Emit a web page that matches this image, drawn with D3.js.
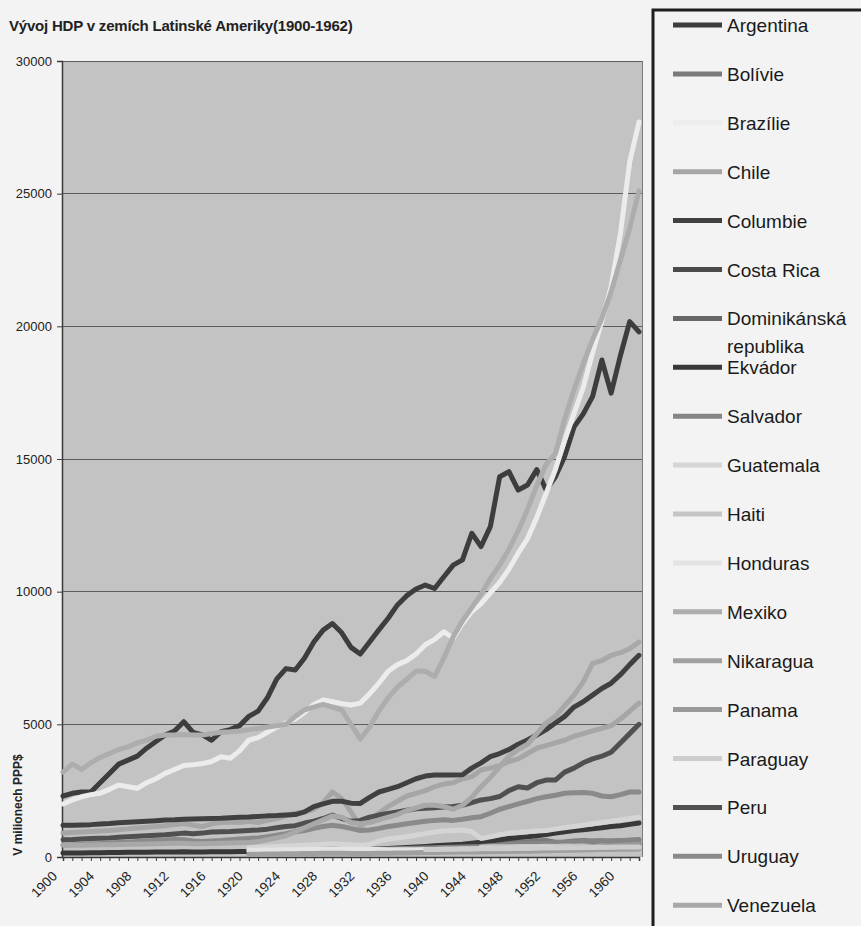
<!DOCTYPE html>
<html><head><meta charset="utf-8">
<script src="https://cdn.jsdelivr.net/npm/d3@7"></script>
<style>
html,body{margin:0;padding:0;background:#f3f3f3;}
svg{display:block;font-family:"Liberation Sans",Arial,sans-serif;}
</style></head>
<body><svg id="c" width="861" height="926"></svg>
<script>
const years = d3.range(1900, 1963);
const yTicks = [0, 5000, 10000, 15000, 20000, 25000, 30000];
const xLabelYears = d3.range(1900, 1961, 4);
const countries = ["Argentina","Bolívie","Brazílie","Chile","Columbie","Costa Rica","Dominikánská republika","Ekvádor","Salvador","Guatemala","Haiti","Honduras","Mexiko","Nikaragua","Panama","Paraguay","Peru","Uruguay","Venezuela"];
const colors = ["#3d3d3d","#7a7a7a","#ececec","#a6a6a6","#404040","#4a4a4a","#666666","#383838","#858585","#d5d5d5","#c5c5c5","#e4e4e4","#adadad","#a0a0a0","#999999","#cdcdcd","#505050","#8a8a8a","#a8a8a8"];
const N = null;

const argentina = [2300,2400,2450,2450,2800,3150,3500,3650,3800,4100,
4350,4600,4750,5100,4700,4600,4400,4720,4800,4950,
5300,5500,6000,6700,7100,7050,7500,8100,8550,8800,
8450,7900,7650,8100,8560,9000,9500,9850,10100,10250,
10120,10560,11000,11200,12200,11700,12450,14330,14520,13830,
14020,14600,13830,14330,15100,16200,16700,17350,18730,17480,
18900,20180,19790];
const bolivie = [N,N,N,N,N,N,N,N,N,N, N,N,N,N,N,N,N,N,N,N, N,N,N,N,N,N,N,N,N,N, N,N,N,N,N,N,N,N,N,N,
N,N,N,N,N,500,520,540,550,560,
570,600,620,560,570,600,620,600,610,580,
600,630,650];
const brazilie = [2000,2150,2270,2350,2400,2550,2710,2650,2590,2800,
2950,3150,3300,3450,3480,3520,3600,3780,3720,4000,
4400,4500,4700,4900,5050,5200,5450,5750,5920,5850,
5780,5730,5800,6150,6550,7000,7250,7400,7650,8000,
8200,8490,8250,8800,9250,9550,9950,10350,10850,11450,
12000,12800,13700,14600,15700,16700,17700,19000,20200,21500,
23500,26200,27700];
const chile = [900,920,940,960,980,1000,1030,1060,1090,1120,
1150,1180,1220,1260,1200,1150,1250,1300,1320,1300,
1350,1300,1380,1450,1550,1650,1700,1800,2050,2450,
2200,1700,1150,1400,1650,1900,2100,2300,2400,2500,
2650,2750,2800,2950,3030,3280,3350,3450,3600,3700,
3900,4100,4200,4300,4400,4550,4650,4750,4850,4950,
5200,5500,5800];
const columbie = [1200,1200,1210,1220,1240,1260,1290,1310,1330,1350,
1370,1390,1400,1420,1430,1440,1450,1460,1480,1500,
1510,1530,1550,1560,1580,1600,1700,1900,2000,2100,
2100,2030,2020,2250,2450,2550,2650,2800,2950,3050,
3090,3090,3090,3100,3350,3550,3780,3900,4050,4250,
4410,4600,4800,5050,5300,5650,5850,6100,6350,6550,
6870,7250,7600];
const costaRica = [N,N,N,N,N,N,N,N,N,N, N,N,N,N,N,N,N,N,N,N,
130,135,140,150,155,160,165,170,180,185,
180,175,170,175,180,190,200,210,220,230,
230,240,230,220,230,240,250,270,280,290,
300,310,320,340,350,360,370,380,390,400,
405,410,420];
const dominikanska = [N,N,N,N,N,N,N,N,N,N, N,N,N,N,N,N,N,N,N,N, N,N,N,N,N,N,N,N,N,N, N,N,N,N,N,N,N,N,N,N,
N,N,N,N,N,N,N,N,N,N,
300,320,340,350,370,390,410,430,450,460,
470,480,520];
const ekvador = [150,150,155,160,160,165,170,175,180,180,
185,190,190,195,190,190,195,200,200,205,
210,215,220,230,240,250,260,270,280,290,
280,270,270,280,300,320,340,360,380,400,
420,440,460,480,520,560,600,650,700,730,
760,800,850,900,950,1000,1030,1060,1100,1150,
1180,1230,1280];
const salvador = [N,N,N,N,N,N,N,N,N,N, N,N,N,N,N,N,N,N,N,N,
230,235,240,250,260,270,280,290,300,300,
290,280,270,280,290,300,310,320,330,340,
350,360,370,380,390,400,420,440,460,480,
500,510,520,540,560,570,580,590,600,610,
620,635,650];
const guatemala = [N,N,N,N,N,N,N,N,N,N, N,N,N,N,N,N,N,N,N,N,
350,360,380,400,410,420,440,460,480,500,
480,460,430,470,600,680,720,760,820,880,
940,980,1000,1020,950,700,760,840,900,920,
950,980,1000,1050,1100,1150,1200,1250,1300,1350,
1400,1450,1500];
const haiti = [N,N,N,N,N,N,N,N,N,N, N,N,N,N,N,N,N,N,N,N, N,N,N,N,N,N,N,N,N,N, N,N,N,N,N,N,N,N,N,N,
N,N,N,N,N,380,385,390,390,395,
400,400,405,400,410,405,410,400,410,405,
410,415,420];
const honduras = [N,N,N,N,N,N,N,N,N,N, N,N,N,N,N,N,N,N,N,N,
250,255,260,265,270,275,280,285,290,295,
300,295,290,285,280,275,270,270,275,280,
285,290,295,300,305,310,315,320,325,330,
335,340,345,350,355,360,365,370,380,390,
400,410,420];
const mexiko = [3200,3500,3300,3550,3750,3900,4050,4150,4300,4400,
4550,4600,4600,4620,4600,4600,4650,4700,4720,4750,
4800,4840,4900,4950,5000,5300,5550,5650,5750,5650,
5540,5000,4450,4900,5500,6000,6400,6700,7000,7000,
6800,7500,8300,8900,9400,9900,10500,11000,11600,12300,
13100,14000,14800,15200,16500,17600,18600,19500,20300,21300,
22500,23700,25100];
const nikaragua = [N,N,N,N,N,N,N,N,N,N, N,N,N,N,N,N,N,N,N,N,
100,105,110,115,120,125,130,135,140,145,
140,135,130,135,140,145,150,155,160,165,
170,175,180,185,190,195,200,205,210,215,
220,230,240,245,250,255,260,270,280,285,
290,295,300];
const panama = [N,N,N,N,N,N,N,N,N,N, N,N,N,N,N,N,N,N,N,N, N,N,N,N,N,N,N,N,N,N, N,N,N,N,N,N,N,N,N,N,
N,N,N,N,N,250,260,270,280,290,
300,310,320,330,340,350,370,390,400,420,
440,460,480];
const paraguay = [N,N,N,N,N,N,N,N,N,N, N,N,N,N,N,N,N,N,N,N, N,N,N,N,N,N,N,N,N,N, N,N,N,N,N,N,N,N,N,
280,285,290,295,300,305,310,315,320,310,
320,325,330,335,340,345,350,355,360,365,
370,375,380,380];
const peru = [650,660,680,700,710,720,740,760,780,800,
820,840,870,900,880,900,940,950,960,980,
1000,1020,1050,1100,1150,1180,1280,1350,1450,1580,
1450,1350,1380,1500,1580,1640,1700,1760,1820,1840,
1860,1880,1900,1950,2050,2150,2200,2280,2500,2650,
2600,2800,2900,2900,3200,3350,3550,3700,3800,3950,
4300,4650,5000];
const uruguay = [450,460,480,500,510,530,550,560,580,600,
620,640,660,650,600,580,600,620,650,680,
700,720,760,820,880,950,1000,1080,1150,1200,
1150,1080,1000,1020,1080,1150,1200,1250,1300,1350,
1380,1400,1380,1420,1480,1520,1650,1800,1900,2000,
2100,2200,2270,2330,2400,2420,2430,2400,2300,2270,
2350,2450,2450];
const venezuela = [450,450,440,450,460,460,470,480,480,490,
500,510,520,520,500,500,510,520,530,540,
550,580,650,720,800,950,1100,1250,1400,1550,
1500,1300,1250,1300,1400,1500,1600,1750,1850,1950,
1950,1900,1800,1950,2250,2650,3000,3400,3800,4050,
4250,4650,5050,5300,5700,6100,6600,7300,7400,7600,
7700,7850,8100];

const seriesValues = [argentina,bolivie,brazilie,chile,columbie,costaRica,dominikanska,ekvador,salvador,guatemala,haiti,honduras,mexiko,nikaragua,panama,paraguay,peru,uruguay,venezuela];

const svg = d3.select("#c");
const L = 62, R = 642, T = 61, B = 857;
const x = d3.scaleLinear().domain([1900, 1962]).range([63, 639]);
const y = d3.scaleLinear().domain([0, 30000]).range([B, T]);

svg.append("rect").attr("width",861).attr("height",926).attr("fill","#f3f3f3");
svg.append("rect").attr("x",L).attr("y",T).attr("width",R-L).attr("height",B-T).attr("fill","#c3c3c3");

// grid
svg.append("g").selectAll("line").data(yTicks.filter(v=>v>0)).join("line")
  .attr("x1",L).attr("x2",R).attr("y1",d=>y(d)).attr("y2",d=>y(d))
  .attr("stroke","#5c5c5c").attr("stroke-width",1).attr("shape-rendering","crispEdges");
svg.append("line").attr("x1",R).attr("x2",R).attr("y1",T).attr("y2",B).attr("stroke","#7a7a7a").attr("shape-rendering","crispEdges");

// y axis
const yAxis = d3.axisLeft(y).tickValues(yTicks).tickSize(5).tickPadding(5).tickFormat(d3.format("d"));
const gy = svg.append("g").attr("transform",`translate(${L},0)`).call(yAxis);
gy.select(".domain").attr("stroke","#3a3a3a").attr("stroke-width",1.5);
gy.selectAll(".tick line").attr("stroke","#3a3a3a");
gy.selectAll("text").attr("font-size",13).attr("fill","#222").attr("font-family","Liberation Sans, Arial, sans-serif");

// x axis
const xAxis = d3.axisBottom(x).tickValues(years).tickSize(4).tickFormat("");
const gx = svg.append("g").attr("transform",`translate(0,${B})`).call(xAxis);
gx.select(".domain").attr("stroke","#3a3a3a").attr("stroke-width",1.5);
gx.selectAll(".tick line").attr("stroke","#3a3a3a");
svg.append("g").selectAll("text").data(xLabelYears).join("text")
  .attr("transform",d=>`translate(${x(d)-5},${B+20}) rotate(-45)`)
  .attr("text-anchor","end").attr("font-size",13.5).attr("fill","#222")
  .text(d=>d);

// lines
const line = d3.line().defined(d=>d.v!=null).x(d=>x(d.year)).y(d=>y(d.v));
const gl = svg.append("g");
seriesValues.forEach((vals,i)=>{
  gl.append("path").datum(vals.map((v,j)=>({year:years[j],v})))
    .attr("d",line).attr("fill","none").attr("stroke",colors[i])
    .attr("stroke-width",5).attr("stroke-linejoin","round").attr("stroke-linecap","round");
});

// title
svg.append("text").attr("x",9).attr("y",31).attr("font-size",15).attr("font-weight","bold").attr("fill","#222")
  .attr("letter-spacing","-0.2")
  .text("Vývoj HDP v zemích Latinské Ameriky(1900-1962)");
// y title
svg.append("text").attr("transform","translate(22,805) rotate(-90)").attr("text-anchor","middle")
  .attr("font-size",12).attr("font-weight","bold").attr("fill","#222").text("V milionech PPP$");

// legend
svg.append("rect").attr("x",653).attr("y",10).attr("width",240).attr("height",950)
  .attr("fill","#f3f3f3").attr("stroke","#1e1e1e").attr("stroke-width",3);
const lg = svg.append("g");
countries.forEach((c,i)=>{
  const cy = 25 + 48.9*i;
  lg.append("line").attr("x1",673).attr("x2",722).attr("y1",cy).attr("y2",cy)
    .attr("stroke",colors[i]).attr("stroke-width",5);
  const parts = c === "Dominikánská republika" ? ["Dominikánská","republika"] : [c];
  parts.forEach((p,k)=>{
    lg.append("text").attr("x",727).attr("y",cy+7+k*28).attr("font-size",19).attr("fill","#1a1a1a").text(p);
  });
});
</script></body></html>
